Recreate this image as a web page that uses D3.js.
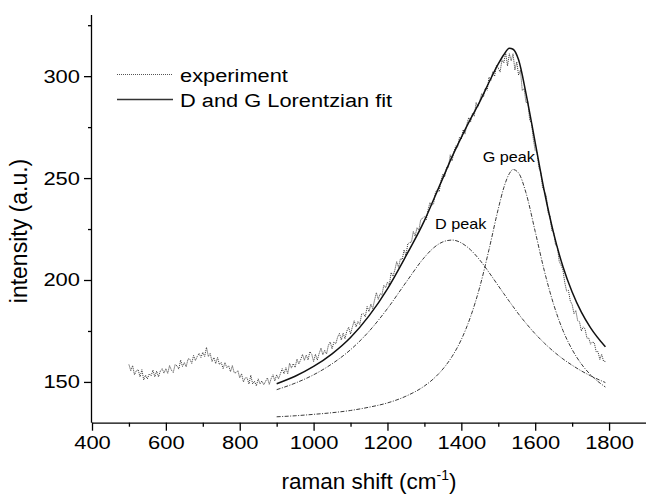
<!DOCTYPE html>
<html>
<head>
<meta charset="utf-8">
<script src="https://cdn.jsdelivr.net/npm/d3@7"></script>
<style>
  body { margin: 0; background: #fff; }
  svg { display: block; font-family: 'Liberation Sans', Arial, Helvetica, sans-serif; }
</style>
</head>
<body>
<svg id="chart" width="646" height="496"></svg>
<script>

// fit curves, sampled along raman shift
const fitX = [900, 950, 1000, 1050, 1100, 1150, 1200, 1250, 1300, 1325, 1350, 1375, 1400, 1425, 1450,
    1475, 1500, 1515, 1530, 1540, 1555, 1575, 1600, 1625, 1650, 1675, 1700, 1725, 1750, 1790];
const fitTotal = [149.1, 152.8, 157.6, 163.8, 171.8, 182.4, 195.7, 211.8, 229.1, 239.5, 250, 260.5, 270, 279, 287.5,
    297, 306, 310.5, 313.7, 313.2, 308, 291.6, 267.4, 243.3, 222.9, 206.6, 194.1, 184.2, 176.5, 167.2];
const dPeak = [146.2, 149.4, 153.5, 158.9, 165.8, 174.8, 186.0, 198.8, 211.1, 215.8, 218.7, 219.6, 218.2, 214.8, 209.8,
    203.7, 197.2, 193.3, 189.5, 187.0, 183.3, 178.8, 173.6, 169.0, 164.9, 161.3, 158.2, 155.4, 153.0, 149.7];
const gPeak = [132.9, 133.4, 134.1, 134.9, 136.0, 137.6, 139.7, 143.0, 148.0, 151.6, 156.3, 162.5, 170.8, 182.0, 196.6,
    215.0, 234.9, 245.3, 252.2, 254.2, 252.5, 242.8, 223.8, 204.3, 188.0, 175.3, 165.9, 158.8, 153.5, 147.5];

// experiment, every 5 cm-1 from 500 to 1790
const expStart = 500;
const expStep = 5;
const expY = [
    158.5, 155.5, 158, 153.5, 155.5, 156, 152.5, 156, 151, 153.3, 151.5, 154, 153, 155.8, 152.5, 155.3, 152.5, 155.3, 156.5, 154.3,
    156.5, 154.2, 158, 155.8, 154.6, 158.5, 157.9, 156.3, 160.7, 157.6, 159.5, 157.4, 161.3, 161.2, 159.1, 163, 160.5, 162.5, 164, 162,
    164.5, 162.5, 167, 162.5, 164, 160, 162, 159, 162, 158.5, 159.5, 156.5, 159.5, 157, 158, 155, 158, 154.5, 154.5, 155.5,
    152, 154, 150, 152, 152, 149, 153.3, 149, 150.3, 148.1, 151.5, 149, 150.5, 148.6, 150.3, 152, 148.8, 151.6, 153.5, 150.5,
    153.5, 151.5, 154, 156.5, 154, 157, 154, 159.2, 156.8, 159, 157.1, 161.2, 158.8, 160.9, 163.5, 160.6, 163.2, 160.8, 164.9, 163.5,
    160, 163.6, 160.7, 163.9, 166.6, 163.3, 165.5, 163.7, 167.9, 169.6, 166.3, 169.5, 168.7, 172, 173.8, 170.6, 173.9, 171.2, 175, 176.8,
    173.5, 177, 180, 177, 179.6, 178.2, 183.3, 183.4, 182, 187, 184.5, 188.2, 185.9, 190.1, 193.8, 190.5, 193.3, 192.6, 197.4, 196.2,
    199, 197.6, 203.7, 201.8, 204.9, 209, 206.2, 210.4, 210.1, 214.8, 212, 217.7, 218.4, 218.6, 223.8, 221.5, 225.7, 224.4, 229.6, 230.3,
    231, 229.5, 234.5, 238, 236.5, 237.5, 243.1, 244.2, 243.3, 248.9, 252, 250.6, 255.2, 255.3, 261.4, 258.5, 262.9, 265.8, 265.2, 270.1,
    269, 273.8, 271.6, 276.4, 279.7, 277.5, 281.7, 280.4, 287.1, 284.8, 288, 291.4, 289.8, 294.2, 293.1, 299.5, 297.8, 302.1, 299.9, 305.2,
    304, 302, 308, 306.5, 311.5, 305, 311, 307.5, 311, 303, 307, 300.5, 303, 293, 294, 287, 287.5, 278.5, 277, 269,
    263.5, 262.5, 255, 253, 245.2, 243.5, 241.3, 233.1, 231.4, 224.2, 223.5, 217.2, 216.4, 209.1, 207.3, 205, 198.8, 194.6, 194.9, 189.7,
    188, 183.5, 185, 180, 179.5, 175, 177, 176, 171.5, 171.5, 168.5, 169.6, 169.2, 164.8, 164.9, 161, 163.5, 160.2, 160
];

const xTicks = [400, 600, 800, 1000, 1200, 1400, 1600, 1800];
const xMinor = [500, 700, 900, 1100, 1300, 1500, 1700];
const yTicks = [150, 200, 250, 300];
const yMinor = [175, 225, 275, 325];

const width = 646;
const height = 496;
const margin = { top: 15, right: 0, bottom: 73.3, left: 92 };
const innerWidth = width - margin.left - margin.right;
const innerHeight = height - margin.top - margin.bottom;

const svg = d3.select('#chart');
const g = svg.append('g')
    .attr('transform', `translate(${margin.left},${margin.top})`);

const xScale = d3.scaleLinear()
    .domain([400, 1900])
    .range([0, innerWidth]);

const yScale = d3.scaleLinear()
    .domain([130, 330])
    .range([innerHeight, 0]);

// the original figure's lettering is a bit wide, so widen text with a scale
const wideText = (parent, x, y, k, str) => parent.append('text')
    .attr('transform', `translate(${x},${y}) scale(${k},1)`)
    .text(str);

// axes
const xAxis = d3.axisBottom(xScale)
    .tickValues(xTicks)
    .tickSize(8)
    .tickPadding(5)
    .tickFormat(d3.format('d'));

const xMinorAxis = d3.axisBottom(xScale)
    .tickValues(xMinor)
    .tickSize(4);

const yAxis = d3.axisLeft(yScale)
    .tickValues(yTicks)
    .tickSize(8)
    .tickPadding(4)
    .tickFormat(d3.format('d'));

const yMinorAxis = d3.axisLeft(yScale)
    .tickValues(yMinor)
    .tickSize(4);

const xAxisG = g.append('g')
    .attr('class', 'xAxis')
    .attr('transform', `translate(0,${innerHeight})`)
    .call(xAxis);

const xMinorG = g.append('g')
    .attr('transform', `translate(0,${innerHeight})`)
    .call(xMinorAxis);
xMinorG.select('.domain').remove();
xMinorG.selectAll('text').remove();

const yAxisG = g.append('g')
    .attr('class', 'yAxis')
    .call(yAxis);

const yMinorG = g.append('g')
    .call(yMinorAxis);
yMinorG.select('.domain').remove();
yMinorG.selectAll('text').remove();

g.selectAll('.domain, .tick line')
    .attr('stroke', '#000')
    .attr('stroke-width', 1.3);

// plain axis lines (no end caps)
xAxisG.select('.domain').attr('d', `M0,0.5H${innerWidth}`);
yAxisG.select('.domain').attr('d', `M-0.5,0V${innerHeight}`);

g.selectAll('.tick text')
    .attr('fill', '#000')
    .attr('font-size', 18.6);
xAxisG.selectAll('.tick text')
    .attr('dy', '0.72em')
    .attr('transform', 'scale(1.18,1)');
yAxisG.selectAll('.tick text')
    .attr('x', -12 / 1.18)
    .attr('transform', 'scale(1.18,1)');

// curves
const fitLine = (vals) => d3.line()
    .x((d, i) => xScale(fitX[i]))
    .y(d => yScale(d))
    .curve(d3.curveMonotoneX)(vals);

const expLine = d3.line()
    .x((d, i) => xScale(expStart + i * expStep))
    .y(d => yScale(d));

g.append('path')
    .attr('class', 'experiment')
    .attr('d', expLine(expY))
    .attr('fill', 'none')
    .attr('stroke', '#333')
    .attr('stroke-width', 1)
    .attr('stroke-dasharray', '1 1');

g.append('path')
    .attr('class', 'dpeak')
    .attr('d', fitLine(dPeak))
    .attr('fill', 'none')
    .attr('stroke', '#222')
    .attr('stroke-width', 0.9)
    .attr('stroke-dasharray', '4 1.5 1 1.5');

g.append('path')
    .attr('class', 'gpeak')
    .attr('d', fitLine(gPeak))
    .attr('fill', 'none')
    .attr('stroke', '#222')
    .attr('stroke-width', 0.9)
    .attr('stroke-dasharray', '4 1.5 1 1.5');

g.append('path')
    .attr('class', 'fit')
    .attr('d', fitLine(fitTotal))
    .attr('fill', 'none')
    .attr('stroke', '#111')
    .attr('stroke-width', 1.5);

// peak labels
const peakLabels = svg.append('g')
    .attr('font-size', 15)
    .attr('fill', '#000');
wideText(peakLabels, 482.7, 162.3, 1.08, 'G peak');
wideText(peakLabels, 435, 229.3, 1.08, 'D peak');

// legend
const legend = svg.append('g')
    .attr('class', 'legend')
    .attr('font-size', 17.6)
    .attr('fill', '#000');

legend.append('line')
    .attr('x1', 117).attr('x2', 173)
    .attr('y1', 74.5).attr('y2', 74.5)
    .attr('stroke', '#555')
    .attr('stroke-width', 1)
    .attr('stroke-dasharray', '1 1');
wideText(legend, 180, 81.5, 1.24, 'experiment');

legend.append('line')
    .attr('x1', 117).attr('x2', 173)
    .attr('y1', 99.5).attr('y2', 99.5)
    .attr('stroke', '#333')
    .attr('stroke-width', 1.5);
wideText(legend, 180, 107, 1.24, 'D and G Lorentzian fit');

// axis titles
svg.append('text')
    .attr('class', 'axis-label')
    .attr('text-anchor', 'middle')
    .attr('transform', `translate(27,231) rotate(-90)`)
    .attr('font-size', 23)
    .attr('fill', '#000')
    .text('intensity (a.u.)');

const xLabel = svg.append('text')
    .attr('class', 'axis-label')
    .attr('text-anchor', 'middle')
    .attr('x', 369)
    .attr('y', 488.5)
    .attr('font-size', 22.5)
    .attr('fill', '#000');
xLabel.append('tspan').text('raman shift (cm');
xLabel.append('tspan')
    .attr('font-size', 14)
    .attr('dy', -9)
    .text('-1');
xLabel.append('tspan')
    .attr('dy', 9)
    .text(')');

</script>
</body>
</html>
